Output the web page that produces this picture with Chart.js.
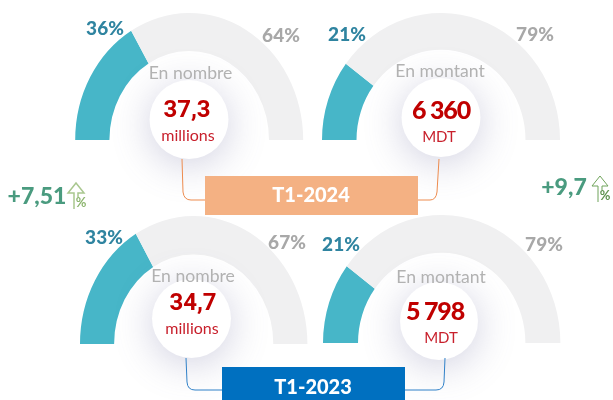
<!DOCTYPE html>
<html><head><meta charset="utf-8">
<style>
html,body{margin:0;padding:0;background:#fff;overflow:hidden}
#w{position:relative;width:613px;height:400px}
canvas{position:absolute;left:0;top:0}
</style>
<script src="https://cdn.jsdelivr.net/npm/chart.js@4"></script>
</head><body><div id="w">
<canvas id="c0" width="613" height="400"></canvas>
<canvas id="c1" width="613" height="400"></canvas>
<canvas id="c2" width="613" height="400"></canvas>
<canvas id="c3" width="613" height="400"></canvas>
</div>
<script>
// arc shares as drawn in the picture, and the percentages as printed on it
const drawnShare = [33, 20.5, 33, 20.5];
const restShare = [67, 79.5, 67, 79.5];
const printedLeft = ['36%', '21%', '33%', '21%'];
const printedRight = ['64%', '79%', '67%', '79%'];
const captions = ['En nombre', 'En montant', 'En nombre', 'En montant'];
const values = ['37,3', '6 360', '34,7', '5 798'];
const units = ['millions', 'MDT', 'millions', 'MDT'];
const periods = ['T1-2024', 'T1-2023'];
const growth = ['+7,51', '+9,7'];

const TEAL='#47B6C8', TRACK='#F0F0F1', BLUE='#2F84A0', GREY='#A8A8A8', CAP='#B2B2B2', RED='#C00000', UNIT='#C8202C', GREEN='#4A9B7F';
const SANS='"Lato","Open Sans",sans-serif';

const geo=[
 {cx:189.2,base:140,rx:114,ry:127,cut:'70%',circle:[189,119.5,39.5],
  l:[105,29],r:[281,36],cap:[190.5,73],val:[187,111],unit:[188,136],valFont:'700 24px Roboto',sp:'0px',uf:'400 16px '},
 {cx:441,base:140,rx:119,ry:127,cut:'71%',circle:[441,117.5,39.5],
  l:[347,35],r:[535,35],cap:[440,71],val:[441,111],unit:[439,137],valFont:'900 25px Lato',sp:'-1.2px',uf:'400 15px '},
 {cx:193.7,base:344,rx:113.7,ry:128,cut:'70%',circle:[191.5,318.5,39.5],
  l:[104,238],r:[287,243],cap:[193,276],val:[193,304],unit:[192,329],valFont:'700 24px Roboto',sp:'0px',uf:'400 16px '},
 {cx:441.7,base:343,rx:118.7,ry:128,cut:'70.5%',circle:[439,321,39],
  l:[341,245],r:[544,245],cap:[441,277],val:[435,312],unit:[441,338],valFont:'900 25px Lato',sp:'-1.2px',uf:'400 15px '}
];

function text(ctx,s,x,y,font,color,sp){
  ctx.letterSpacing=sp||'0px';
  ctx.font=font;ctx.fillStyle=color;ctx.textAlign='center';ctx.textBaseline='middle';ctx.fillText(s,x,y);
  ctx.letterSpacing='0px';
}
function connector(ctx,pts,color){
  ctx.save();ctx.strokeStyle=color;ctx.lineWidth=1;ctx.beginPath();
  ctx.moveTo(pts[0][0],pts[0][1]);
  ctx.lineTo(pts[1][0],pts[1][1]);
  ctx.quadraticCurveTo(pts[2][0],pts[2][1],pts[3][0],pts[3][1]);
  ctx.lineTo(pts[4][0],pts[4][1]);
  ctx.stroke();ctx.restore();
}
function arrow(ctx,x,top,h,color,pct,pctColor,pw){
  ctx.save();ctx.strokeStyle=color;ctx.lineWidth=pw;ctx.beginPath();
  const b=top+h;
  ctx.moveTo(x-2,b);ctx.lineTo(x-2,top+10);ctx.lineTo(x-8,top+10);ctx.lineTo(x,top);ctx.lineTo(x+8,top+10);ctx.lineTo(x+2,top+10);ctx.lineTo(x+2,top+14);
  ctx.stroke();ctx.restore();
  text(ctx,pct,x+5,b-6,'700 13px '+SANS,pctColor);
}

const stretch={id:'stretch',
  beforeDatasetsDraw(chart,a,o){const c=chart.ctx,g=o.g;c.save();c.translate(g.cx,g.base);c.scale(1,g.ry/g.rx);c.translate(-g.cx,-g.base);},
  afterDatasetsDraw(chart,a,o){chart.ctx.restore();}
};
const overlay={id:'overlay',
  afterDraw(chart,a,o){
    const c=chart.ctx,g=o.g,i=o.i,[x,y,r]=g.circle;
    c.save();
    c.shadowColor='rgba(110,110,160,0.32)';c.shadowBlur=38;c.shadowOffsetY=6;
    c.fillStyle='#fff';c.beginPath();c.arc(x,y,r,0,Math.PI*2);c.fill();
    c.restore();
    text(c,printedLeft[i],g.l[0],g.l[1],'900 19px '+SANS,BLUE);
    text(c,printedRight[i],g.r[0],g.r[1],'900 19px '+SANS,GREY);
    text(c,captions[i],g.cap[0],g.cap[1],'400 17.6px '+SANS,CAP);
    text(c,values[i],g.val[0],g.val[1],g.valFont,RED,g.sp);
    text(c,units[i],g.unit[0],g.unit[1],g.uf+SANS,UNIT);
    if(i===3){
      connector(c,[[182,159],[183,192],[184,200],[191,200],[205,200]],'#ED8B4E');
      connector(c,[[439,159],[437,192],[436,200],[430,200],[418,200]],'#ED8B4E');
      connector(c,[[186,358],[187,382],[187.5,390],[195,390],[222,390]],'#2F80C8');
      connector(c,[[445,358],[444,382],[443.5,390],[436,390],[405,390]],'#2F80C8');
      c.fillStyle='#F4B183';c.fillRect(205,176,213,39);
      c.fillStyle='#0070C0';c.fillRect(222,367,183,33);
      text(c,periods[0],311,196,'900 20px '+SANS,'#fff');
      text(c,periods[1],313,388,'900 20px '+SANS,'#fff');
      text(c,growth[0],37,197,'900 23px '+SANS,GREEN);
      text(c,growth[1],564,188,'900 23px '+SANS,GREEN);
      arrow(c,76,183,26,'#A9C78F','%','#8DB56F',1.5);
      arrow(c,600,176,26,'#6FA35A','%','#5E9350',1);
    }
  }
};

geo.forEach((g,i)=>{
  new Chart(document.getElementById('c'+i),{
    type:'doughnut',
    data:{labels:['Part','Reste'],datasets:[{data:[drawnShare[i],restShare[i]],backgroundColor:[TEAL,TRACK],borderWidth:0,clip:false}]},
    options:{
      responsive:false,animation:false,rotation:-90,circumference:180,cutout:g.cut,
      layout:{padding:{left:g.cx-g.rx,right:613-g.cx-g.rx,top:g.base-g.rx,bottom:400-g.base}},
      plugins:{legend:{display:false},tooltip:{enabled:false},stretch:{g},overlay:{g,i}},
      events:[]
    },
    plugins:[stretch,overlay]
  });
});
</script></body></html>
